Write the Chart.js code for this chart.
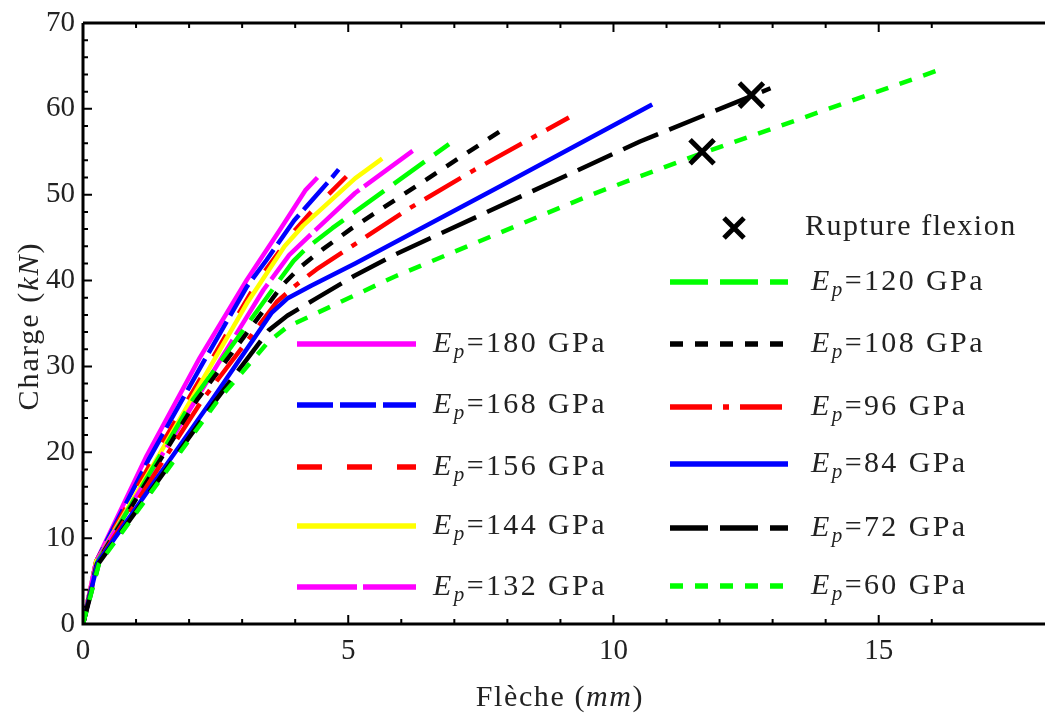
<!DOCTYPE html>
<html>
<head>
<meta charset="utf-8">
<script src="https://cdn.jsdelivr.net/npm/chart.js@4.4.1/dist/chart.umd.min.js"></script>
<style>
  html, body { margin: 0; padding: 0; background: #fff; }
  #wrap { width: 1045px; height: 718px; position: relative; }
</style>
</head>
<body>
<div id="wrap"><canvas id="grafica"></canvas></div>
<script>
// modules de la plaque (GPa)
const modules = [180, 168, 156, 144, 132, 120, 108, 96, 84, 72, 60];

// courbes charge / flèche
const fleche180 = [0, 0.25, 1.2, 2.2, 3.09, 3.71, 4.19, 4.42];
const charge180 = [0, 7.3, 19.6, 31.0, 40.1, 45.9, 50.5, 52.0];
const fleche168 = [0, 0.25, 1.25, 2.25, 3.09, 3.46, 3.98, 4.64, 4.82];
const charge168 = [0, 7.3, 19.3, 30.3, 39.3, 42.4, 47.0, 51.6, 52.95];
const fleche156 = [0, 0.25, 1.3, 2.3, 3.31, 4.0, 4.3, 5.22];
const charge156 = [0, 7.3, 19.0, 29.5, 40.1, 45.9, 48.0, 53.7];
const fleche144 = [0, 0.25, 1.35, 3.09, 3.8, 4.15, 5.13, 5.64];
const charge144 = [0, 7.3, 18.8, 37.35, 44.0, 46.4, 51.9, 54.2];
const fleche132 = [0, 0.25, 1.4, 3.4, 3.89, 4.3, 5.13, 6.28];
const charge132 = [0, 7.3, 18.8, 38.9, 43.0, 45.4, 50.2, 55.4];
const fleche120 = [0, 0.27, 2.07, 3.59, 3.97, 4.2, 4.7, 6.9];
const charge120 = [0, 7.2, 26.1, 39.1, 42.3, 43.7, 46.1, 55.9];
const fleche108 = [0, 0.27, 2.15, 3.75, 4.1, 4.51, 5.07, 7.89];
const charge108 = [0, 7.2, 26.1, 39.4, 41.6, 43.6, 46.1, 57.5];
const fleche96 = [0, 0.28, 2.25, 3.65, 4.0, 4.4, 6.15, 7.38, 9.16];
const charge96 = [0, 7.2, 26.1, 37.5, 39.4, 41.3, 48.4, 52.9, 59.0];
const fleche84 = [0, 0.28, 2.42, 3.55, 3.85, 4.3, 5.13, 7.9, 10.73];
const charge84 = [0, 7.2, 26.0, 36.2, 37.9, 39.4, 42.0, 51.1, 60.5];
const fleche72 = [0, 0.3, 2.45, 3.5, 3.85, 4.39, 5.1, 5.87, 10.5, 12.96];
const charge72 = [0, 7.1, 25.6, 34.2, 35.9, 37.9, 40.5, 43.0, 56.2, 62.4];
const fleche60 = [0, 0.3, 2.55, 3.5, 3.85, 5.87, 9.57, 11.43, 16.17];
const charge60 = [0, 7.0, 26.1, 32.9, 34.6, 40.45, 49.97, 54.3, 64.6];

// points de rupture en flexion
const ruptureFleche = [12.6, 11.67];
const ruptureCharge = [61.6, 55.0];

// graduations
const ticksX = [0, 5, 10, 15];
const ticksY = [0, 10, 20, 30, 40, 50, 60, 70];

const fleches = [fleche180, fleche168, fleche156, fleche144, fleche132, fleche120, fleche108, fleche96, fleche84, fleche72, fleche60];
const charges = [charge180, charge168, charge156, charge144, charge132, charge120, charge108, charge96, charge84, charge72, charge60];

// style de chaque courbe (même ordre que modules)
const styles = [
  { color: "#ff00ff", dash: [] },
  { color: "#0000ff", dash: [36, 7] },
  { color: "#ff0000", dash: [25, 25] },
  { color: "#ffff00", dash: [] },
  { color: "#ff00ff", dash: [60, 6] },
  { color: "#00ff00", dash: [38, 12] },
  { color: "#000000", dash: [13, 12] },
  { color: "#ff0000", dash: [42, 11, 6, 11] },
  { color: "#0000ff", dash: [] },
  { color: "#000000", dash: [38, 12] },
  { color: "#00ff00", dash: [13, 12] }
];

const SERIF = '"Liberation Serif", "Times New Roman", serif';
const fontN = (s) => s + "px " + SERIF;
const fontI = (s) => "italic " + s + "px " + SERIF;

// texte composé (morceaux droit / italique / indice)
function texteRiche(ctx, morceaux, x, y, align, espace) {
  ctx.letterSpacing = (espace || 0) + "px";
  let largeur = 0;
  morceaux.forEach(m => { ctx.font = m.font; largeur += ctx.measureText(m.t).width; });
  let cx = align === "center" ? x - largeur / 2 : x;
  ctx.textAlign = "left";
  ctx.textBaseline = "alphabetic";
  morceaux.forEach(m => {
    ctx.font = m.font;
    ctx.fillText(m.t, cx, y + (m.dy || 0));
    cx += ctx.measureText(m.t).width;
  });
  ctx.letterSpacing = "0px";
}

function etiquetteEp(ctx, valeur, x, y) {
  texteRiche(ctx, [
    { t: "E", font: fontI(30) },
    { t: "p", font: fontI(21), dy: 6 },
    { t: "=" + valeur + " GPa", font: fontN(30) }
  ], x, y, "left", 2.4);
}

function croix(ctx, x, y, d) {
  ctx.save();
  ctx.strokeStyle = "#000";
  ctx.lineWidth = 5;
  ctx.setLineDash([]);
  ctx.beginPath();
  ctx.moveTo(x - d, y - d); ctx.lineTo(x + d, y + d);
  ctx.moveTo(x - d, y + d); ctx.lineTo(x + d, y - d);
  ctx.stroke();
  ctx.restore();
}

// cadre, graduations intérieures, titres des axes et légende
const habillage = {
  id: "habillage",
  afterDraw(chart) {
    const ctx = chart.ctx;
    const a = chart.chartArea;
    const sx = chart.scales.x, sy = chart.scales.y;
    ctx.save();
    ctx.strokeStyle = "#000";
    ctx.lineWidth = 3;
    ctx.beginPath();
    ctx.moveTo(a.left, a.top); ctx.lineTo(a.left, a.bottom); ctx.lineTo(chart.width, a.bottom);
    ctx.moveTo(a.left, a.top); ctx.lineTo(chart.width, a.top);
    ctx.stroke();

    ctx.lineWidth = 2;
    ctx.beginPath();
    sx.ticks.forEach(t => {
      if (!Number.isInteger(t.value) || t.value === 0) return;
      const px = sx.getPixelForValue(t.value);
      const l = ticksX.includes(t.value) ? 9 : 5;
      ctx.moveTo(px, a.bottom); ctx.lineTo(px, a.bottom - l);
      ctx.moveTo(px, a.top); ctx.lineTo(px, a.top + l);
    });
    sy.ticks.forEach(t => {
      if (t.value === 0 || t.value === 70) return;
      const py = sy.getPixelForValue(t.value);
      const l = ticksY.includes(t.value) ? 9 : 5;
      ctx.moveTo(a.left, py); ctx.lineTo(a.left + l, py);
    });
    ctx.stroke();

    // valeurs de l'axe x
    ctx.fillStyle = "#222";
    ctx.font = fontN(29);
    ctx.textAlign = "center";
    ctx.textBaseline = "alphabetic";
    ticksX.forEach(v => ctx.fillText(String(v), sx.getPixelForValue(v), 659));

    // titre axe x
    texteRiche(ctx, [
      { t: "Flèche (", font: fontN(30) },
      { t: "mm", font: fontI(30) },
      { t: ")", font: fontN(30) }
    ], 560, 706, "center", 1.6);
    // titre axe y
    ctx.save();
    ctx.translate(38, 326);
    ctx.rotate(-Math.PI / 2);
    texteRiche(ctx, [
      { t: "Charge (", font: fontN(30) },
      { t: "kN", font: fontI(30) },
      { t: ")", font: fontN(30) }
    ], 0, 0, "center", 2);
    ctx.restore();

    // légende
    const colonnes = [
      { x0: 297, x1: 416, xt: 433, ys: [344, 405, 467, 526, 587], idx: [0, 1, 2, 3, 4] },
      { x0: 670, x1: 788, xt: 811, ys: [282, 344, 407, 464, 528, 586], idx: [5, 6, 7, 8, 9, 10] }
    ];
    colonnes.forEach(c => {
      c.idx.forEach((i, k) => {
        const y = c.ys[k];
        ctx.save();
        ctx.strokeStyle = styles[i].color;
        ctx.lineWidth = 5.5;
        ctx.setLineDash(styles[i].dash);
        ctx.beginPath();
        ctx.moveTo(c.x0, y); ctx.lineTo(c.x1, y);
        ctx.stroke();
        ctx.restore();
        ctx.fillStyle = "#222";
        etiquetteEp(ctx, modules[i], c.xt, y + 8);
      });
    });
    croix(ctx, 734, 228, 10);
    ctx.fillStyle = "#222";
    texteRiche(ctx, [{ t: "Rupture flexion", font: fontN(30) }], 805, 235, "left", 1.5);
    ctx.restore();
  }
};

const datasets = [{
  label: "Rupture flexion",
  data: ruptureFleche.map((f, i) => ({ x: f, y: ruptureCharge[i] })),
  showLine: false,
  pointStyle: "crossRot",
  pointRadius: 17,
  pointBorderWidth: 5,
  borderColor: "#000",
  backgroundColor: "#000"
}];
for (let i = modules.length - 1; i >= 0; i--) {
  datasets.push({
    label: "Ep=" + modules[i] + " GPa",
    data: fleches[i].map((f, k) => ({ x: f, y: charges[i][k] })),
    showLine: true,
    borderColor: styles[i].color,
    borderDash: styles[i].dash,
    borderWidth: 4.5,
    borderJoinStyle: "round",
    pointRadius: 0,
    tension: 0,
    fill: false
  });
}

const grafica = document.getElementById("grafica").getContext("2d");
const myChart = new Chart(grafica, {
  type: "scatter",
  data: { datasets: datasets },
  options: {
    responsive: true,
    maintainAspectRatio: false,
    animation: false,
    layout: { padding: { top: 23, right: 0, left: 0, bottom: 0 } },
    plugins: { legend: { display: false }, tooltip: { enabled: false } },
    scales: {
      x: {
        type: "linear",
        min: 0,
        max: 17.72,
        grid: { display: false, drawTicks: false },
        border: { display: false },
        afterFit: (s) => { s.height = 94; },
        ticks: { stepSize: 1, autoSkip: false, display: false }
      },
      y: {
        type: "linear",
        min: 0,
        max: 70,
        grid: { display: false, drawTicks: false },
        border: { display: false },
        afterFit: (s) => { s.width = 83; },
        ticks: {
          stepSize: 2,
          autoSkip: false,
          padding: 8,
          color: "#222",
          font: { family: SERIF, size: 29, lineHeight: 1 },
          callback: (v) => ticksY.includes(v) ? String(v) : ""
        }
      }
    }
  },
  plugins: [habillage]
});
</script>
</body>
</html>
